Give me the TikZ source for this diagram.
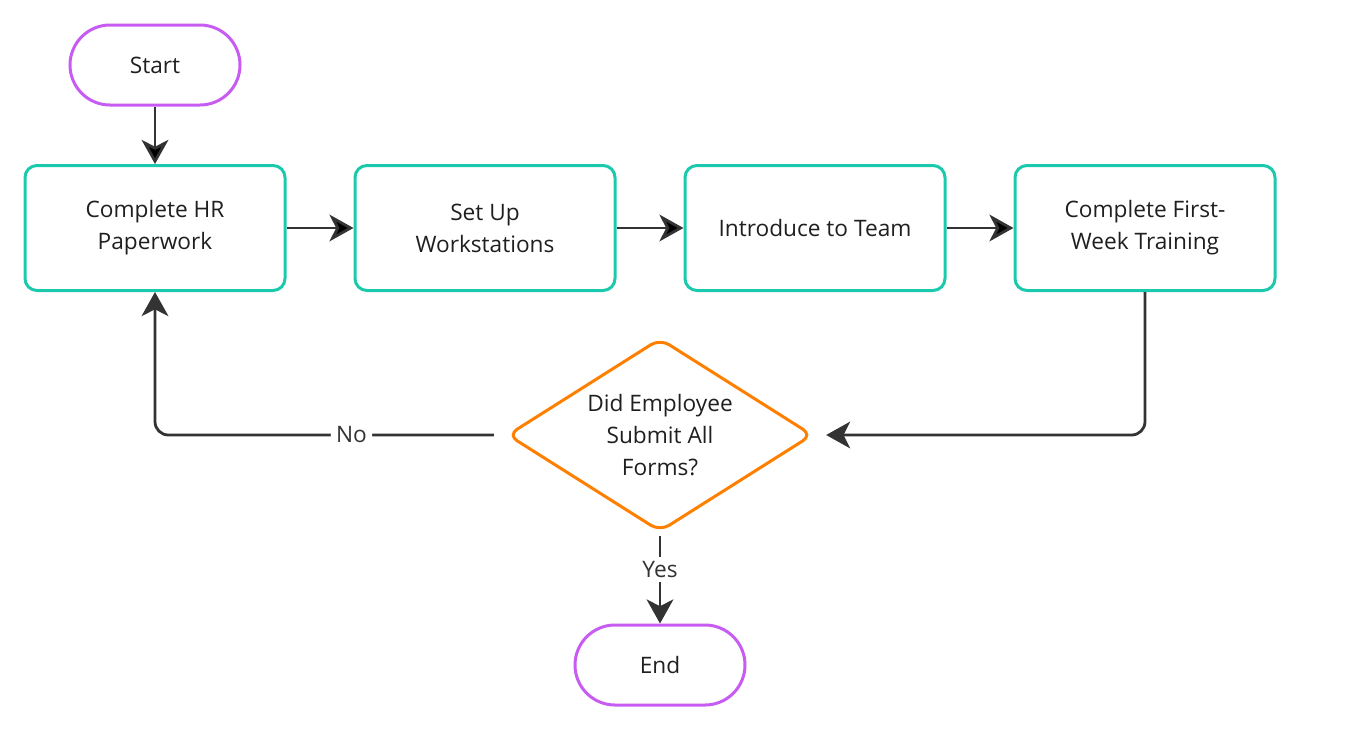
\documentclass[tikz,border=0pt]{standalone}
\usepackage{fontspec}
\setmainfont{Open Sans}
\usetikzlibrary{arrows.meta, shapes.geometric}
\definecolor{procline}{HTML}{1BC9AC}
\definecolor{termline}{HTML}{C65CF2}
\definecolor{askline}{HTML}{FF8000}
\definecolor{ink}{HTML}{333333}

\begin{document}
\begin{tikzpicture}[x=0.75pt,y=-0.75pt,
    flow/.style={draw=ink,line width=2.1pt,-{Stealth[length=18pt,width=20pt,inset=5pt]}},
    node distance=247.5pt,
    font=\fontsize{17}{24}\selectfont,text=black!88,
    term/.style={draw=termline,line width=2.25pt,rounded corners=30pt,minimum width=127.5pt,minimum height=60pt},
    proc/.style={draw=procline,line width=2.25pt,rounded corners=9pt,minimum width=195pt,minimum height=93.75pt,align=center},
    ask/.style={diamond,draw=askline,line width=2.25pt,aspect=1.58,inner sep=0pt,rounded corners=8pt,
        minimum width=229pt,minimum height=145pt,align=center},
    lbl/.style={fill=white,text=ink,inner sep=4pt}]
                \useasboundingbox (0,0) rectangle (1357,736);
                \node[proc] (hr) at (155,228) {Complete HR\\Paperwork};
                \node[term] (start) [above of = hr, node distance=122.25pt] {Start};
                \node[proc] (setup) [right of = hr] {Set Up\\Workstations};
                \node[proc] (team) [right of = setup] {Introduce to Team};
                \node[proc] (train) [right of = team] {Complete First-\\Week Training};
                \node[ask] (forms) at (660,435) {Did Employee\\Submit All\\Forms?};
                \node[term] (end) [below of = forms, node distance=172.5pt] {End};
                \path[flow]
                (start) edge (hr)
                (hr) edge (setup)
                (setup) edge (team)
                (team) edge (train)
                ;
                \draw[flow,rounded corners=10pt,shorten >=9pt] (train.south) |- (forms.east);
                \draw[flow,rounded corners=10pt,shorten <=9pt] (forms.west) -| node[lbl,pos=0.22] {No} (hr.south);
                \draw[flow,shorten <=2pt] (forms.south) -- node[lbl,pos=0.4,inner sep=3pt] {Yes} (end.north);
            \end{tikzpicture}
\end{document}
